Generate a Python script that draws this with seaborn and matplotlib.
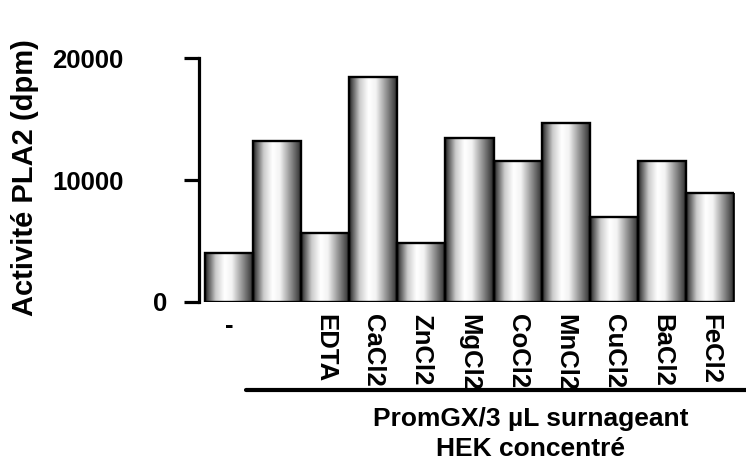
import numpy as np
import pandas as pd
import matplotlib
matplotlib.use("Agg")
import matplotlib.pyplot as plt
import matplotlib.transforms as mtransforms
from matplotlib.lines import Line2D
import seaborn as sns

# ---- data ----
categories = ["ctrl", "PromGX", "EDTA", "CaCl2", "ZnCl2", "MgCl2", "CoCl2",
              "MnCl2", "CuCl2", "BaCl2", "FeCl2"]
tick_labels = ["-", "", "EDTA", "CaCl2", "ZnCl2", "MgCl2", "CoCl2",
               "MnCl2", "CuCl2", "BaCl2", "FeCl2"]
values = [3980, 13200, 5670, 18440, 4800, 13480, 11560, 14660, 6990, 11560, 8900]
yticks = [0, 10000, 20000]
ytick_labels = ["0", "10000", "20000"]
ylabel = "Activité PLA2 (dpm)"
xlabel = "PromGX/3 µL surnageant\nHEK concentré"

sns.set_theme(style="white")
plt.rcParams["font.family"] = ["Liberation Sans", "DejaVu Sans"]
plt.rcParams["font.weight"] = "bold"
for k in ["text.color", "axes.labelcolor", "xtick.color", "ytick.color"]:
    plt.rcParams[k] = "black"

fig = plt.figure(figsize=(7.46, 4.63), dpi=100)
W, H = 746, 463
ax_left, ax_right, ax_top, ax_bot = 198.7, 734.0, 58.3, 301.7
ax = fig.add_axes([ax_left / W, 1 - ax_bot / H, (ax_right - ax_left) / W, (ax_bot - ax_top) / H])

df = pd.DataFrame({"cat": categories, "val": values})
sns.barplot(data=df, x="cat", y="val", order=categories, width=1.0,
            color="white", edgecolor="black", linewidth=1.7, ax=ax, saturation=1)

# cylinder-like grey gradient inside each bar
stops_t = [0.0, 0.06, 0.22, 0.40, 0.55, 0.75, 0.92, 1.0]
stops_v = [0.12, 0.32, 0.80, 1.0, 0.95, 0.6, 0.30, 0.12]
t = np.linspace(0, 1, 200)
grad = np.interp(t, stops_t, stops_v)[None, :]
for p in ax.patches:
    x0, y0 = p.get_x(), p.get_y()
    w, h = p.get_width(), p.get_height()
    im = ax.imshow(grad, extent=[x0, x0 + w, y0, y0 + h], aspect="auto",
                   cmap="gray", vmin=0, vmax=1, interpolation="bilinear",
                   zorder=p.get_zorder() - 0.1)
    im.set_clip_path(p)
    p.set_facecolor("none")
    p.set_zorder(p.get_zorder() + 0.1)

ax.set_xlim(-0.631, 10.5)
ax.set_ylim(0, 20000)
ax.set_aspect("auto")

for s in ["top", "right", "bottom"]:
    ax.spines[s].set_visible(False)
ax.spines["left"].set_linewidth(2.3)
ax.spines["left"].set_color("black")

ax.set_yticks(yticks)
ax.set_yticklabels(ytick_labels, fontsize=18.5, fontweight="bold")
ax.tick_params(axis="y", left=True, length=11, width=2.3, color="black", pad=43)
ax.set_xticks(range(len(tick_labels)))
ax.set_xticklabels(tick_labels, rotation=270, fontsize=18.5, fontweight="bold",
                   ha="center", va="top")
ax.tick_params(axis="x", bottom=False, length=0, pad=9)
ax.get_xticklabels()[0].set_rotation(0)

# shift the "0" label towards the axis as in the reference
lab0 = ax.get_yticklabels()[0]
lab0.set_transform(lab0.get_transform() + mtransforms.ScaledTranslation(44 / 100, 0, fig.dpi_scale_trans))

ax.set_ylabel(ylabel, fontsize=21, fontweight="bold", va="center")
ax.yaxis.set_label_coords((25 - ax_left) / (ax_right - ax_left), (ax_bot - 178) / (ax_bot - ax_top))
ax.set_xlabel(xlabel, fontsize=19, fontweight="bold", va="center", linespacing=1.3)
ax.xaxis.set_label_coords((531 - ax_left) / (ax_right - ax_left), (ax_bot - 434) / (ax_bot - ax_top))

fig.add_artist(Line2D([246 / W, 1.0], [1 - 389.5 / H, 1 - 389.5 / H], color="black", linewidth=3.0))

fig.savefig("out.png", dpi=100)
